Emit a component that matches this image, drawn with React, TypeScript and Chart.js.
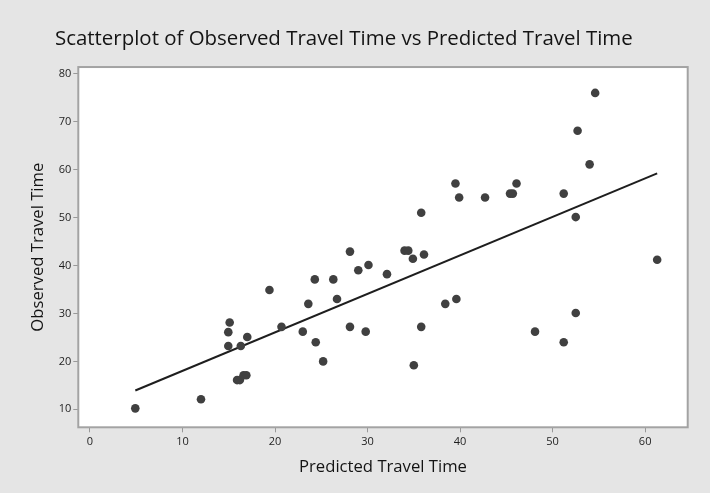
import React, { useEffect, useRef } from "react";
import { Chart, registerables } from "chart.js";

Chart.register(...registerables);

// ---- Data ----
const predicted = [
  4.9, 12.0, 14.95, 15.1, 14.95, 16.3, 17.0, 15.9, 16.2, 16.6,
  16.9, 19.4, 20.7, 23.0, 23.6, 24.3, 24.4, 25.2, 26.3, 26.7,
  28.1, 28.1, 29.0, 29.8, 30.1, 32.1, 34.0, 34.4, 34.9, 36.1,
  35.8, 35.8, 35.0, 38.4, 39.6, 39.5, 39.9, 42.7, 45.4, 45.7,
  46.1, 48.1, 51.2, 51.2, 52.5, 52.5, 52.7, 54.0, 54.6, 61.3,
];
const observed = [
  10.2, 12.1, 26.1, 28.1, 23.2, 23.2, 25.1, 16.1, 16.1, 17.1,
  17.1, 34.9, 27.2, 26.2, 32.0, 37.1, 24.0, 20.0, 37.1, 33.0,
  27.2, 42.9, 39.0, 26.2, 40.1, 38.2, 43.1, 43.1, 41.4, 42.3,
  51.0, 27.2, 19.2, 32.0, 33.0, 57.1, 54.2, 54.2, 55.0, 55.0,
  57.1, 26.2, 24.0, 55.0, 30.1, 50.1, 68.1, 61.1, 76.0, 41.2,
];
const xTickValues = [0, 10, 20, 30, 40, 50, 60];
const yTickValues = [10, 20, 30, 40, 50, 60, 70, 80];
const fitIntercept = 10.0;
const fitSlope = 0.803;

const TITLE = "Scatterplot of Observed Travel Time vs Predicted Travel Time";
const X_TITLE = "Predicted Travel Time";
const Y_TITLE = "Observed Travel Time";

const FAMILY = "'Open Sans', 'Noto Sans', sans-serif";

function fitSize(text: string, target: number): number {
  const ctx = document.createElement("canvas").getContext("2d")!;
  ctx.font = `normal 100px ${FAMILY}`;
  const w = ctx.measureText(text).width;
  return (100 * target) / w;
}

const framePlugin = {
  id: "frame",
  beforeDraw(chart: any) {
    const { ctx, width, height, chartArea: a } = chart;
    ctx.save();
    ctx.fillStyle = "#e5e5e5";
    ctx.fillRect(0, 0, width, height);
    ctx.fillStyle = "#ffffff";
    ctx.fillRect(a.left, a.top, a.right - a.left, a.bottom - a.top);
    ctx.restore();
  },
  beforeDatasetsDraw(chart: any) {
    const { ctx, chartArea: a } = chart;
    ctx.save();
    ctx.strokeStyle = "#a3a3a3";
    ctx.lineWidth = 2;
    ctx.strokeRect(a.left, a.top, a.right - a.left, a.bottom - a.top);
    ctx.restore();
  },
};

export default function App() {
  const ref = useRef<HTMLCanvasElement>(null);

  useEffect(() => {
    document.body.style.margin = "0";
    document.body.style.background = "#e5e5e5";
    const canvas = ref.current!;
    const titleSize = fitSize(TITLE, 578);
    const axisTitleSize = fitSize(X_TITLE, 168);

    const points = predicted.map((x, i) => ({ x, y: observed[i] }));
    const minX = Math.min(...predicted);
    const maxX = Math.max(...predicted);
    const fitLine = [minX, maxX].map((x) => ({ x, y: fitIntercept + fitSlope * x }));

    const tickFont = { family: FAMILY, size: 11 };

    const chart = new Chart(canvas, {
      type: "scatter",
      data: {
        datasets: [
          {
            data: fitLine,
            showLine: true,
            borderColor: "#1e1e1e",
            borderWidth: 2,
            pointRadius: 0,
            order: 2,
          } as any,
          {
            data: points,
            backgroundColor: "#404040",
            borderWidth: 0,
            pointRadius: 4.3,
            order: 1,
          },
        ],
      },
      options: {
        animation: false,
        responsive: false,
        devicePixelRatio: 1,
        layout: { padding: { left: 0, right: 22.3, top: 0, bottom: 0 } },
        plugins: {
          legend: { display: false },
          tooltip: { enabled: false },
          title: {
            display: true,
            text: TITLE,
            color: "#141414",
            font: { family: FAMILY, size: titleSize, weight: "normal" },
            padding: { top: 27, bottom: 15.5 },
          },
        },
        scales: {
          x: {
            type: "linear",
            min: -1.26,
            max: 64.6,
            afterBuildTicks: (s: any) => {
              s.ticks = xTickValues.map((v) => ({ value: v }));
            },
            afterFit: (s: any) => {
              s.height = 65.7;
            },
            ticks: { color: "#1e1e1e", font: tickFont, padding: 3, maxRotation: 0 },
            grid: { drawOnChartArea: false, drawTicks: true, tickLength: 5, color: "#999999" },
            border: { display: false },
            title: {
              display: true,
              text: X_TITLE,
              color: "#141414",
              font: { family: FAMILY, size: axisTitleSize },
              padding: { top: 0, bottom: 16 },
            },
          },
          y: {
            type: "linear",
            min: 6.25,
            max: 81.4,
            afterBuildTicks: (s: any) => {
              s.ticks = yTickValues.map((v) => ({ value: v }));
            },
            afterFit: (s: any) => {
              s.width = 78.3;
            },
            ticks: { color: "#1e1e1e", font: tickFont, padding: 2 },
            grid: { drawOnChartArea: false, drawTicks: true, tickLength: 5, color: "#999999" },
            border: { display: false },
            title: {
              display: true,
              text: Y_TITLE,
              color: "#141414",
              font: { family: FAMILY, size: axisTitleSize },
              padding: { top: 28.5, bottom: 0 },
            },
          },
        },
      },
      plugins: [framePlugin],
    } as any);

    return () => chart.destroy();
  }, []);

  return (
    <div style={{ width: 710, height: 493 }}>
      <canvas ref={ref} width={710} height={493} style={{ display: "block" }} />
    </div>
  );
}
